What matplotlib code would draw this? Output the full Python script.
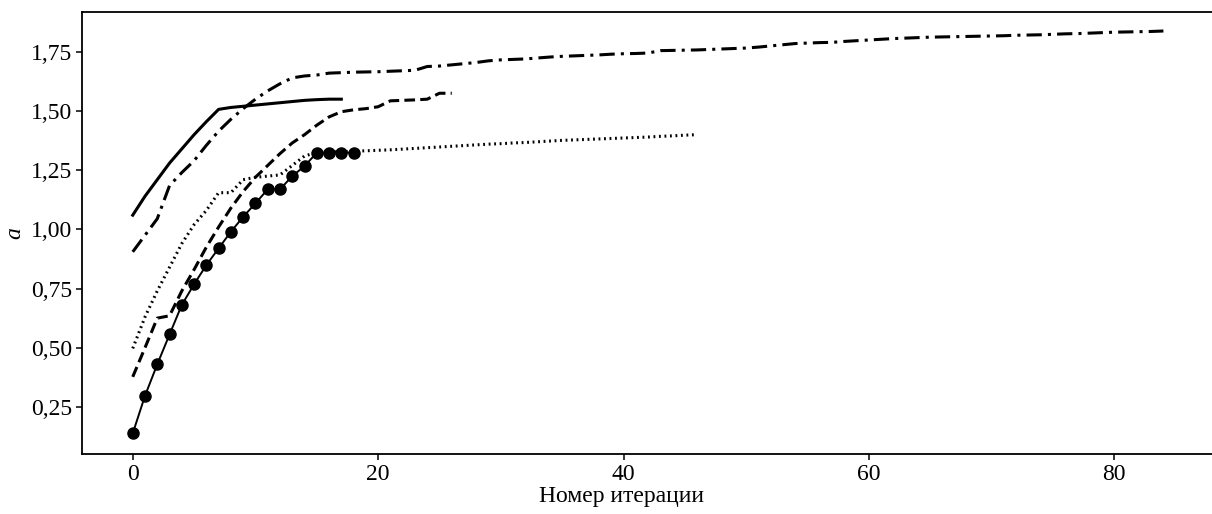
import matplotlib
matplotlib.use("Agg")
import matplotlib.pyplot as plt
from matplotlib.ticker import FuncFormatter
import numpy as np

# ---- data ----
solid_y = [1.06, 1.14, 1.21, 1.28, 1.34, 1.40, 1.455, 1.507, 1.515, 1.52, 1.525,
           1.53, 1.535, 1.54, 1.545, 1.548, 1.55, 1.55]

dashdot_y = [0.905, 0.975, 1.045, 1.185, 1.24, 1.29, 1.355, 1.415, 1.465, 1.51,
             1.55, 1.585, 1.615, 1.64, 1.648, 1.652, 1.66, 1.662, 1.664, 1.665,
             1.666, 1.668, 1.67, 1.672, 1.688, 1.69, 1.695, 1.70, 1.705, 1.712,
             1.716, 1.718, 1.72, 1.724, 1.728, 1.731, 1.733, 1.735, 1.737, 1.74,
             1.742, 1.743, 1.745, 1.755, 1.756, 1.757, 1.758, 1.76, 1.762, 1.764,
             1.766, 1.77, 1.775, 1.78, 1.785, 1.787, 1.789, 1.79, 1.794, 1.797,
             1.80, 1.803, 1.806, 1.808, 1.81, 1.812, 1.813, 1.814, 1.815, 1.816,
             1.817, 1.818, 1.82, 1.821, 1.822, 1.824, 1.826, 1.827, 1.829, 1.831,
             1.833, 1.834, 1.835, 1.836, 1.838]

dashed_y = [0.377, 0.50, 0.625, 0.635, 0.74, 0.83, 0.925, 1.01, 1.09, 1.16,
            1.22, 1.27, 1.32, 1.365, 1.40, 1.44, 1.475, 1.497, 1.505, 1.51,
            1.518, 1.543, 1.545, 1.547, 1.55, 1.575, 1.575]

dotted_y = [0.497, 0.63, 0.74, 0.84, 0.94, 1.02, 1.08, 1.155, 1.155, 1.21,
            1.22, 1.225, 1.23, 1.27, 1.31, 1.325, 1.327, 1.328, 1.33, 1.332,
            1.334, 1.336, 1.339, 1.342, 1.345, 1.348, 1.351, 1.354, 1.357, 1.36,
            1.362, 1.365, 1.367, 1.37, 1.373, 1.376, 1.378, 1.38, 1.382, 1.384,
            1.386, 1.388, 1.39, 1.393, 1.395, 1.398, 1.40]

marker_y = [0.138, 0.297, 0.43, 0.556, 0.681, 0.768, 0.849, 0.92, 0.99, 1.053,
            1.11, 1.169, 1.169, 1.225, 1.267, 1.324, 1.324, 1.324, 1.324]

x_ticks = [0, 20, 40, 60, 80]
y_ticks = [0.25, 0.50, 0.75, 1.00, 1.25, 1.50, 1.75]
x_label = "Номер итерации"
y_label = "a"

# ---- plot ----
plt.rcParams['font.family'] = ['Liberation Serif', 'DejaVu Serif']
fig = plt.figure(figsize=(12.12, 5.14), dpi=100)
ax = fig.add_axes([0.0674, 0.1167, 0.9326, 0.977 - 0.1167])

ax.plot(range(len(dotted_y)), dotted_y, color='black', lw=2.2,
        linestyle=(0, (0.6, 1.2)))
ax.plot(range(len(dashed_y)), dashed_y, color='black', lw=2.2,
        linestyle=(0, (3.5, 1.7)))
ax.plot(range(len(dashdot_y)), dashdot_y, color='black', lw=2.2,
        linestyle=(0, (5, 2, 1, 2)))
ax.plot(range(len(solid_y)), solid_y, color='black', lw=2.2, linestyle='-')
ax.plot(range(len(marker_y)), marker_y, color='black', lw=1.4, linestyle='-',
        marker='o', markersize=8)

ax.set_xlim(-4.16, 87.96)
ax.set_ylim(0.051, 1.919)
ax.set_xticks(x_ticks)
ax.set_yticks(y_ticks)
ax.yaxis.set_major_formatter(FuncFormatter(lambda v, p: f"{v:.2f}".replace('.', ',')))
ax.tick_params(direction='out', length=4, width=1.1, labelsize=17, colors='black',
               pad=3)
for s in ['left', 'bottom', 'top']:
    ax.spines[s].set_linewidth(1.3)
ax.spines['right'].set_visible(False)

ax.set_xlabel(x_label, fontsize=17)
ax.xaxis.set_label_coords(0.478, -0.072)
ax.set_ylabel(y_label, fontsize=17, fontstyle='italic', labelpad=4)

fig.savefig("out.png", dpi=100)
